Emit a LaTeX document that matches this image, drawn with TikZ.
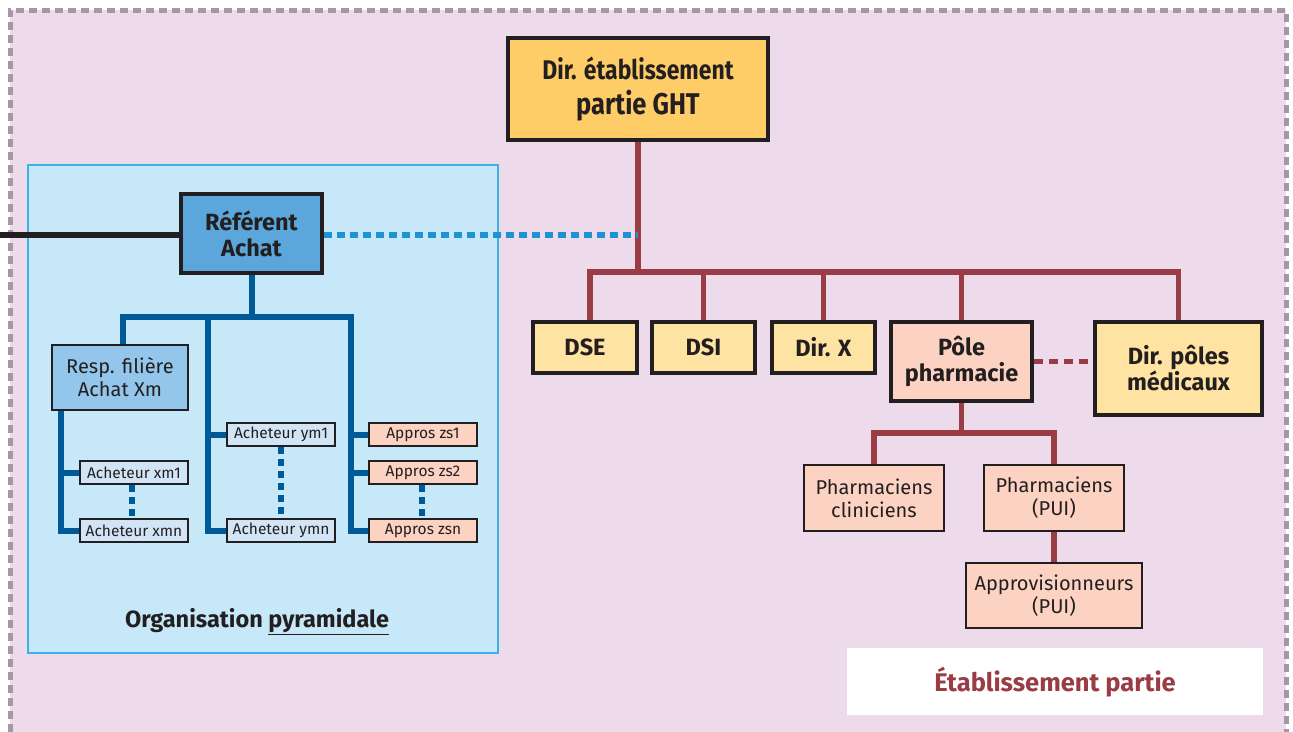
\documentclass[tikz,border=0pt]{standalone}
\usepackage{fontspec}
\usepackage{graphicx}
\setmainfont{Fira Sans}
\setsansfont{Fira Sans}
\definecolor{bgpink}{HTML}{EDDBEB}
\definecolor{frame}{HTML}{A597A6}
\definecolor{panel}{HTML}{C6E8F8}
\definecolor{panelline}{HTML}{3DB1E3}
\definecolor{refblue}{HTML}{5BA7DB}
\definecolor{respblue}{HTML}{93C6EA}
\definecolor{buyblue}{HTML}{D2E5F6}
\definecolor{salmon}{HTML}{FCD3C2}
\definecolor{paleyellow}{HTML}{FEE3A3}
\definecolor{gold}{HTML}{FECD67}
\definecolor{wine}{HTML}{9A3C44}
\definecolor{navy}{HTML}{005A97}
\definecolor{sky}{HTML}{1E93D3}
\definecolor{ink}{HTML}{231F20}
\tikzset{
  box/.style={draw=ink, line width=3.4pt, inner sep=0pt, align=center, text=ink},
  smallbox/.style={draw=ink, line width=2.4pt, inner sep=0pt, align=center, text=ink,
    minimum width=108pt, minimum height=23pt, font=\fontsize{15.5}{17}\selectfont},
  boldtxt/.style={font=\fontsize{23.5}{26}\selectfont\bfseries},
  regtxt/.style={font=\fontsize{20}{23}\selectfont},
  wineline/.style={draw=wine, line width=5.5pt},
  navyline/.style={draw=navy, line width=6pt, line join=miter},
  navydots/.style={draw=navy, line width=5.5pt, dash pattern=on 7pt off 5pt},
  skydots/.style={draw=sky, line width=5.5pt, dash pattern=on 8pt off 5pt},
  winedots/.style={draw=wine, line width=5.5pt, dash pattern=on 9pt off 6pt},
}
\begin{document}
\begin{tikzpicture}[x=1pt, y=-1pt]
\useasboundingbox (0,0) rectangle (1293,731);
% establishment frame
\fill[bgpink] (10,10) rectangle (1286,745);
\draw[frame, line width=5pt, dash pattern=on 8pt off 5pt] (10,745) -- (10,10) -- (1286,10) -- (1286,745);
% purchasing panel
\draw[panelline, fill=panel, line width=1.6pt] (28,165) rectangle (498,653);
\node[font=\fontsize{23.5}{26}\selectfont\bfseries, text=ink] (orgtitle) at (257,622)
  {Organisation \underline{pyramidale}};
% label box
\fill[white] (847,648) rectangle (1263,715);
\node[font=\fontsize{25.5}{28}\selectfont\bfseries, text=wine] (etab) at (1055,682) {Établissement partie};

% management boxes
\node[box, fill=gold, minimum width=260pt, minimum height=102pt] (dir) at (638,89)
  {\scalebox{0.85}[1]{\fontsize{27}{30}\selectfont\bfseries Dir. établissement}\\[9pt]
   \scalebox{0.85}[1]{\fontsize{30}{32}\selectfont\bfseries partie GHT}};
\node[box, fill=paleyellow, boldtxt, minimum width=104pt, minimum height=51pt] (dse) at (585,347.5) {DSE};
\node[box, fill=paleyellow, boldtxt, minimum width=103pt, minimum height=51pt] (dsi) at (703.5,347.5) {DSI};
\node[box, fill=paleyellow, boldtxt, minimum width=103pt, minimum height=51pt] (dirx) at (823.5,347.5) {Dir. X};
\node[box, fill=salmon, boldtxt, minimum width=141pt, minimum height=79pt] (pole) at (961.5,361.5) {Pôle\\pharmacie};
\node[box, fill=paleyellow, boldtxt, minimum width=167pt, minimum height=93pt] (dirpm) at (1178.5,368.5) {Dir. pôles\\médicaux};
\node[box, line width=2.6pt, fill=salmon, regtxt, minimum width=140pt, minimum height=66pt] (pcl) at (874,498) {Pharmaciens\\cliniciens};
\node[box, line width=2.6pt, fill=salmon, regtxt, minimum width=140pt, minimum height=66pt] (ppui) at (1054,498) {Pharmaciens\\(PUI)};
\node[box, line width=2.6pt, fill=salmon, regtxt, minimum width=176pt, minimum height=65pt] (appro) at (1054,595.5) {Approvisionneurs\\(PUI)};

% purchasing boxes
\node[box, fill=refblue, boldtxt, minimum width=141pt, minimum height=79pt] (ref) at (251.5,233.5) {Référent\\Achat};
\node[box, line width=2.6pt, fill=respblue, regtxt, minimum width=136pt, minimum height=65pt] (resp) at (120,377.5) {Resp. filière\\Achat Xm};
\node[smallbox, fill=buyblue] (axm1) at (134,472.5) {Acheteur xm1};
\node[smallbox, fill=buyblue] (axmn) at (134,530.5) {Acheteur xmn};
\node[smallbox, fill=buyblue] (aym1) at (281,434.5) {Acheteur ym1};
\node[smallbox, fill=buyblue] (aymn) at (281,530.5) {Acheteur ymn};
\node[smallbox, fill=salmon] (az1) at (423,434.5) {Appros zs1};
\node[smallbox, fill=salmon] (az2) at (423,472.5) {Appros zs2};
\node[smallbox, fill=salmon] (azn) at (423,530.5) {Appros zsn};

% helper coordinates for bars and trunks
\coordinate (lft) at (0,235);
\coordinate (rbar) at (0,272);
\coordinate (pbar) at (0,433);
\coordinate (bbar) at (0,316.5);
\coordinate (t1) at (61,0);
\coordinate (t2) at (208,0);
\coordinate (t3) at (351,0);

% connectors of the establishment
\draw[wineline] (dir.south) -- (dir.south |- rbar);
\draw[wineline] ([xshift=5pt]dse.north) -- ([xshift=5pt]dse.north |- rbar) -- (dirpm.north |- rbar) -- (dirpm.north);
\draw[wineline] (dsi.north) -- (dsi.north |- rbar);
\draw[wineline] (dirx.north) -- (dirx.north |- rbar);
\draw[wineline] (pole.north) -- (pole.north |- rbar);
\draw[winedots] (pole.east) -- (pole.east -| dirpm.west);
\draw[wineline] (pole.south) -- (pole.south |- pbar);
\draw[wineline] (pcl.north) -- (pcl.north |- pbar) -- (ppui.north |- pbar) -- (ppui.north);
\draw[wineline] (ppui.south) -- (appro.north);

% connectors of the purchasing tree
\draw[ink, line width=5.5pt] (lft) -- (lft -| ref.west);
\draw[skydots] (lft -| ref.east) -- (lft -| dir.south);
\draw[navyline] (ref.south) -- (ref.south |- bbar);
\draw[navyline] ([xshift=3pt]resp.north) -- ([xshift=3pt]resp.north |- bbar) -- (t3 |- bbar) -- (t3 |- azn.west) -- (azn.west);
\draw[navyline] (t3 |- az1.west) -- (az1.west);
\draw[navyline] (t3 |- az2.west) -- (az2.west);
\draw[navyline] (t2 |- bbar) -- (t2 |- aymn.west) -- (aymn.west);
\draw[navyline] (t2 |- aym1.west) -- (aym1.west);
\draw[navyline] (t1 |- resp.south) -- (t1 |- axmn.west) -- (axmn.west);
\draw[navyline] (t1 |- axm1.west) -- (axm1.west);
\draw[navydots] ([xshift=-2pt]axm1.south) -- ([xshift=-2pt]axmn.north);
\draw[navydots] (aym1.south) -- (aymn.north);
\draw[navydots] ([xshift=-1pt]az2.south) -- ([xshift=-1pt]azn.north);
\end{tikzpicture}
\end{document}
